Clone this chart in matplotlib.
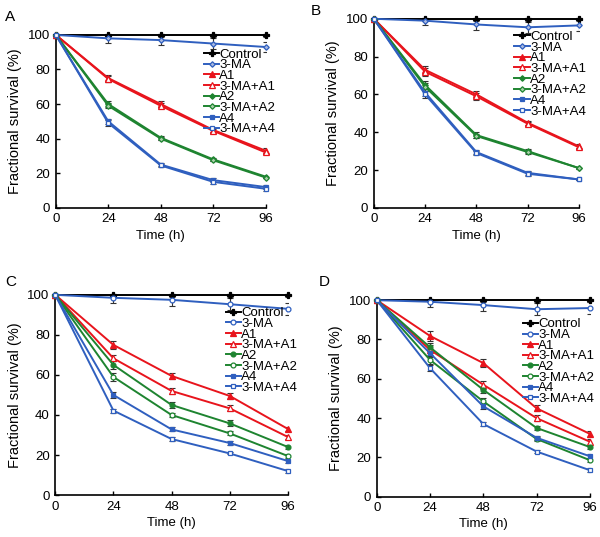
import matplotlib
matplotlib.use('Agg')
import matplotlib.pyplot as plt

plt.rcParams['font.family'] = ['Liberation Sans', 'DejaVu Sans']

time_h = [0, 24, 48, 72, 96]
labels = ['Control', '3-MA', 'A1', '3-MA+A1', 'A2', '3-MA+A2', 'A4', '3-MA+A4']

# survival (%) per series, panels A-D
vals_a = [
    [100, 100, 100, 100, 100],
    [100, 98, 97, 95, 93],
    [100, 75, 60, 45, 33],
    [100, 74.5, 59, 44.5, 32],
    [100, 60, 40.5, 28, 18],
    [100, 59, 40, 27.5, 17.5],
    [100, 50, 25, 16, 12],
    [100, 49, 24.5, 15, 11],
]
vals_b = [
    [100, 100, 100, 100, 100],
    [100, 99, 97, 95.5, 96.5],
    [100, 73, 60, 45, 32.5],
    [100, 72, 59, 44.5, 32],
    [100, 65, 38.5, 30, 21],
    [100, 64, 38, 29.5, 21],
    [100, 61, 29.5, 18.5, 15],
    [100, 60, 29, 18, 15],
]
vals_c = [
    [100, 100, 100, 100, 100],
    [100, 98.5, 97.5, 95.3, 93],
    [100, 75, 59.5, 49.5, 33],
    [100, 68.3, 52, 43.3, 29],
    [100, 65, 45, 35.8, 24],
    [100, 59, 40, 30.8, 19.5],
    [100, 50, 32.8, 26, 17],
    [100, 42.2, 28, 20.8, 12],
]
vals_d = [
    [100, 100, 100, 100, 100],
    [100, 99.2, 97.5, 95.4, 96],
    [100, 81.8, 68, 45, 32],
    [100, 74.7, 57, 40, 28],
    [100, 76, 54.4, 35, 25.3],
    [100, 69.6, 48.5, 29.4, 18.6],
    [100, 73, 46, 30, 20.6],
    [100, 65.4, 37, 23, 13.5],
]
# error bars
err_a = [
    [0, 1, 1, 1, 1],
    [0, 2.5, 3, 3, 3],
    [0, 2, 1.5, 1, 1.5],
    [0, 1.5, 1.5, 1, 1],
    [0, 1.5, 1, 1, 0.5],
    [0, 1.5, 1, 0.5, 0.5],
    [0, 1.5, 1, 1, 1],
    [0, 1.5, 1, 1, 1],
]
err_b = [
    [0, 1, 1, 1, 1],
    [0, 2.5, 3, 3, 3],
    [0, 2, 2, 1, 1],
    [0, 2, 2, 1, 1],
    [0, 2, 1.5, 1, 0.5],
    [0, 2, 1, 1, 0.5],
    [0, 2, 1, 1, 0.5],
    [0, 2, 1, 1, 0.5],
]
err_c = [
    [0, 1, 1, 1, 1],
    [0, 2.5, 3, 3, 3],
    [0, 2, 1.5, 1.5, 1],
    [0, 1.5, 1.5, 1.5, 1],
    [0, 2, 1.5, 1.5, 1],
    [0, 2, 1, 1, 1],
    [0, 1.5, 1, 1, 1],
    [0, 1, 1, 0.5, 1],
]
err_d = [
    [0, 1, 1, 1, 1],
    [0, 2.5, 3, 3, 3],
    [0, 2.5, 2, 1.5, 1.5],
    [0, 2.5, 2, 1.5, 1.5],
    [0, 2, 1.5, 1, 1],
    [0, 2, 1.5, 1, 1],
    [0, 2, 1.5, 1, 1],
    [0, 1.5, 1, 1, 1],
]

blue = '#2F5FBF'
red = '#E8141C'
green = '#1E8430'
# top row uses small diamonds for 3-MA / A2, bottom row open/filled circles
styles_top = [
    dict(color='black', marker='P', mfc='black', ms=4),
    dict(color=blue, marker='D', mfc='#A8B8E0', ms=2.8),
    dict(color=red, marker='^', mfc=red, ms=4.5),
    dict(color=red, marker='^', mfc='white', ms=4.5),
    dict(color=green, marker='D', mfc=green, ms=2.8),
    dict(color=green, marker='D', mfc='#A8D0A8', ms=2.8),
    dict(color=blue, marker='s', mfc=blue, ms=3.5),
    dict(color=blue, marker='s', mfc='white', ms=3.5),
]
styles_bottom = [
    dict(color='black', marker='P', mfc='black', ms=4),
    dict(color=blue, marker='o', mfc='white', ms=3.5),
    dict(color=red, marker='^', mfc=red, ms=4.5),
    dict(color=red, marker='^', mfc='white', ms=4.5),
    dict(color=green, marker='o', mfc=green, ms=3.5),
    dict(color=green, marker='o', mfc='white', ms=3.5),
    dict(color=blue, marker='s', mfc=blue, ms=3.5),
    dict(color=blue, marker='s', mfc='white', ms=3.5),
]

fig = plt.figure(figsize=(6.0, 5.37), dpi=100)

panels = [
    ('A', vals_a, err_a, styles_top, [0.093, 0.613, 0.350, 0.322], (0.008, 0.982), (1.09, 0.975)),
    ('B', vals_b, err_b, styles_top, [0.623, 0.613, 0.342, 0.352], (0.518, 0.992), (1.08, 0.985)),
    ('C', vals_c, err_c, styles_bottom, [0.092, 0.078, 0.388, 0.373], (0.008, 0.487), (1.08, 0.985)),
    ('D', vals_d, err_d, styles_bottom, [0.628, 0.075, 0.355, 0.366], (0.531, 0.487), (1.065, 0.955)),
]

for name, vals, errs, styles, rect, lab_pos, leg_anchor in panels:
    ax = fig.add_axes(rect)
    for lab, y, e, st in zip(labels, vals, errs, styles):
        ax.errorbar(time_h, y, yerr=e, ecolor='#333333', elinewidth=0.8,
                    capsize=2.5, capthick=0.8, zorder=2, fmt='none')
        ax.plot(time_h, y, label=lab, lw=1.4, color=st['color'],
                marker=st['marker'], mfc=st['mfc'], mec=st['color'],
                ms=st['ms'], mew=0.9, clip_on=False, zorder=3)
    ax.set_xlim(0, 96)
    ax.set_ylim(0, 100)
    ax.set_xticks([0, 24, 48, 72, 96])
    ax.set_yticks([0, 20, 40, 60, 80, 100])
    ax.spines['top'].set_visible(False)
    ax.spines['right'].set_visible(False)
    ax.spines['left'].set_linewidth(1.2)
    ax.spines['bottom'].set_linewidth(1.2)
    ax.tick_params(direction='in', length=3, width=1, labelsize=9.5, pad=4)
    ax.set_xlabel('Time (h)', fontsize=9.5, labelpad=3)
    ax.set_ylabel('Fractional survival (%)', fontsize=10.5, labelpad=4)
    ax.legend(loc='upper right', bbox_to_anchor=leg_anchor, frameon=False,
              fontsize=9.5, handlelength=1.2, handletextpad=0.0,
              labelspacing=-0.12, borderpad=0.2)
    fig.text(lab_pos[0], lab_pos[1], name, fontsize=11, va='top', ha='left')

fig.savefig('out.png', dpi=100)
